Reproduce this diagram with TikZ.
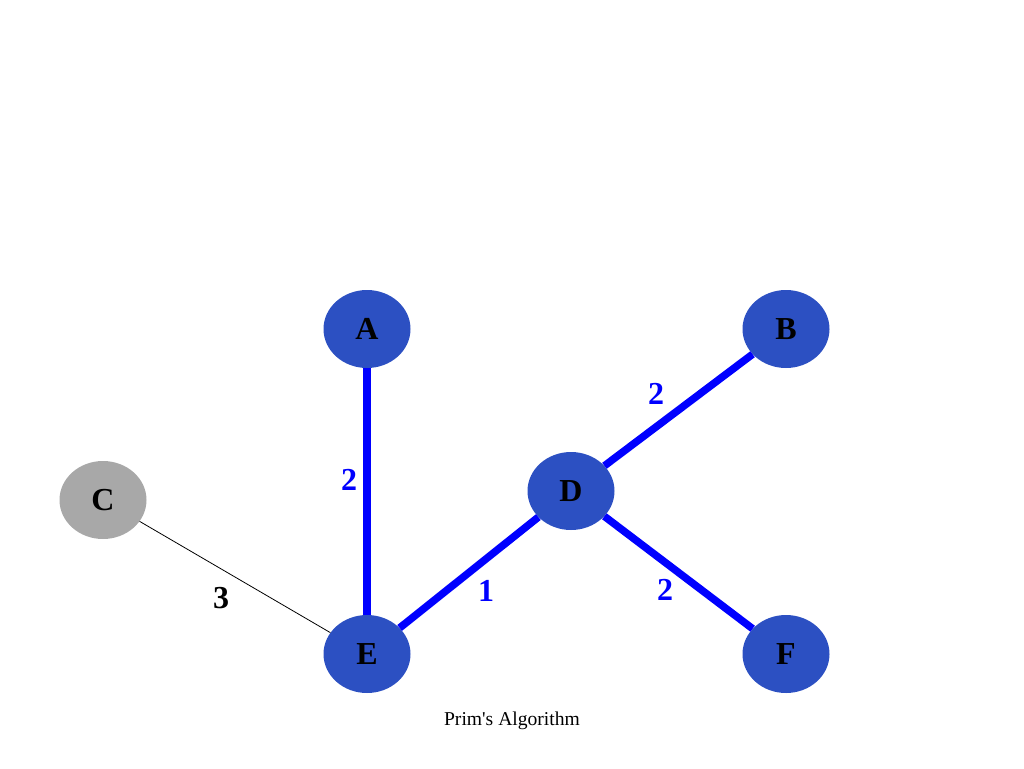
\documentclass[tikz,border=0pt]{standalone}
\usepackage{fontspec}
\setmainfont{Liberation Serif}
\usepackage{xcolor}
\usepackage{tikz}
\usetikzlibrary{positioning,shapes.geometric}

\definecolor{nodeblue}{RGB}{44,80,194}
\definecolor{nodegray}{RGB}{168,168,168}
\definecolor{treeblue}{RGB}{0,0,255}

\begin{document}
\begin{tikzpicture}[x=1pt,y=-1pt,
	vertex/.style={ellipse,fill=nodeblue,minimum width=87pt,minimum height=78pt,inner sep=0pt,font=\fontsize{32}{34}\selectfont\bfseries},
	outvertex/.style={vertex,fill=nodegray},
	treeedge/.style={treeblue,line width=7.5pt},
	plainedge/.style={black,line width=0.8pt},
	wlabel/.style={font=\fontsize{32}{34}\selectfont\bfseries}]
	\useasboundingbox (0,0) rectangle (1024,768);
	
	% đỉnh
	\node[vertex] (A) at (367,329) {A};
	\node[vertex] (B) at (786,329) {B};
	\node[outvertex] (C) at (103,500) {C};
	\node[vertex] (D) at (571,491) {D};
	\node[vertex] (E) at (367,654) {E};
	\node[vertex] (F) at (786,654) {F};
	
	% cạnh
	\draw[plainedge] (C) -- (E);
	\draw[treeedge] (A) -- (E);
	\draw[treeedge] (E) -- (D);
	\draw[treeedge] (D) -- (B);
	\draw[treeedge] (D) -- (F);
	
	% trọng số
	\node[wlabel,treeblue] (wAE) at (349,480) {2};
	\node[wlabel,treeblue] (wDB) at (656,394) {2};
	\node[wlabel,treeblue] (wED) at (486,591) {1};
	\node[wlabel,treeblue] (wDF) at (665,590) {2};
	\node[wlabel] (wCE) at (221,598) {3};
	
	\node[font=\fontsize{19.6}{22}\selectfont] (title) at (512,721) {Prim\textquotesingle s Algorithm};
\end{tikzpicture}
\end{document}
